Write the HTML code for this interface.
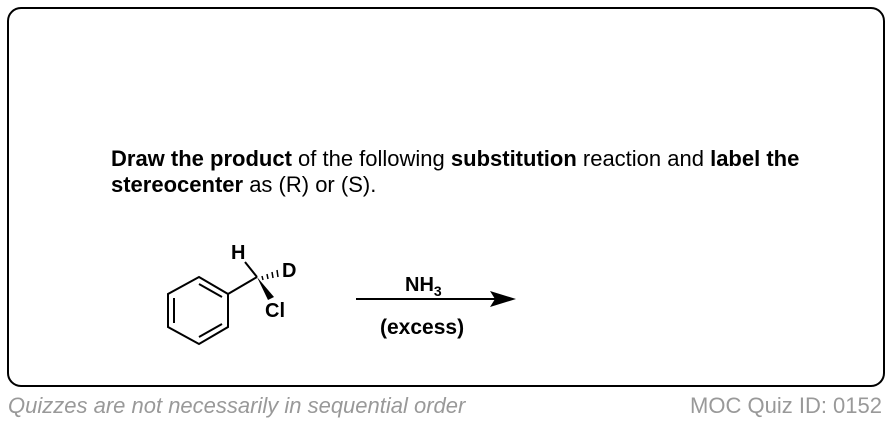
<!DOCTYPE html>
<html><head><style>
body{margin:0;width:890px;height:422px;background:#fff;font-family:"Liberation Sans",Arial,sans-serif;position:relative;overflow:hidden}
.box{position:absolute;left:7px;top:7px;width:874px;height:376px;border:2px solid #000;border-radius:14px}
.t{position:absolute;left:111px;top:146px;font-size:22px;line-height:26px;color:#000}
.f{position:absolute;top:393px;font-size:22px;color:#999}
</style></head><body>
<div class="box"></div>
<div class="t"><b>Draw the product</b> of the following <b>substitution</b> reaction and <b>label the</b><br><b>stereocenter</b> as (R) or (S).</div>
<svg width="890" height="422" style="position:absolute;left:0;top:0" font-family="Liberation Sans,Arial,sans-serif" font-weight="bold">
<g stroke="#000" stroke-width="2" fill="none">
<polygon points="199,277 228,294 228,327 199,344 168,327 168,294"/>
<line x1="174" y1="298" x2="174" y2="323"/>
<line x1="199" y1="284" x2="222" y2="297"/>
<line x1="199" y1="337" x2="222" y2="324"/>
<line x1="228" y1="294" x2="257" y2="277"/>
<line x1="257" y1="277" x2="245" y2="262"/>
<line x1="356" y1="299" x2="495" y2="299"/>
</g>
<polygon points="257,277 268,300 274,297" fill="#000"/>
<g stroke="#000" stroke-width="1.5">
<line x1="262" y1="276" x2="263" y2="280"/><line x1="267" y1="274" x2="268" y2="279"/><line x1="272" y1="272" x2="273" y2="278"/><line x1="277" y1="270" x2="278" y2="277"/>
</g>
<polygon points="516,299 490,291 495,299 490,307" fill="#000"/>
<text x="231" y="259" font-size="20">H</text>
<text x="282" y="277" font-size="20">D</text>
<text x="265" y="317" font-size="20">Cl</text>
<text x="405" y="291" font-size="20">NH<tspan font-size="14" dy="5">3</tspan></text>
<text x="380" y="334" font-size="21">(excess)</text>
</svg>
<div class="f" style="left:8px;font-style:italic">Quizzes are not necessarily in sequential order</div>
<div class="f" style="right:8px">MOC Quiz ID: 0152</div>
</body></html>
